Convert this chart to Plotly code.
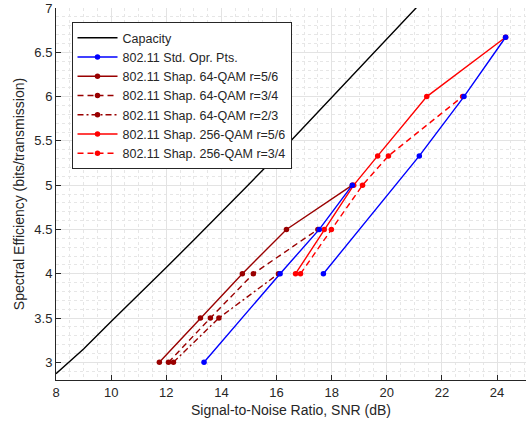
import plotly.graph_objects as go

# Capacity curve
cap_snr = [8, 9, 10, 11, 12, 13, 14, 15, 16, 17, 18, 19, 20, 21, 22]
cap_se = [2.87, 3.15, 3.46, 3.76, 4.07, 4.38, 4.69, 5.01, 5.33, 5.66, 5.98, 6.31, 6.65, 6.98, 7.31]

# 802.11 standard operating points (two segments)
std_snr = [13.37, 16.13, 17.55, 18.75, None, 17.70, 21.18, 22.80, 24.31]
std_se = [3, 4, 4.5, 5, None, 4, 5.33, 6, 6.67]

# Shaped 64-QAM
q64_56_snr = [11.75, 13.24, 14.76, 16.36, 18.75]
q64_56_se = [3, 3.5, 4, 4.5, 5]
q64_34_snr = [12.08, 13.60, 15.16, 17.50]
q64_34_se = [3, 3.5, 4, 4.5]
q64_23_snr = [12.26, 13.91, 16.07]
q64_23_se = [3, 3.5, 4]

# Shaped 256-QAM
q256_56_snr = [16.69, 17.73, 18.80, 19.67, 21.45, 24.31]
q256_56_se = [4, 4.5, 5, 5.33, 6, 6.67]
q256_34_snr = [16.87, 17.99, 19.12, 20.06, 22.75]
q256_34_se = [4, 4.5, 5, 5.33, 6]

x_ticks = [8, 10, 12, 14, 16, 18, 20, 22, 24, 26]
y_ticks = [3, 3.5, 4, 4.5, 5, 5.5, 6, 6.5, 7]

DR = "#990000"
LW = 1.4
MS = 5.5
FONT = "Liberation Sans, Arial, sans-serif"

fig = go.Figure()
fig.add_trace(go.Scatter(x=cap_snr, y=cap_se, mode="lines", name="Capacity",
                         line=dict(color="black", width=LW), legendrank=1))
fig.add_trace(go.Scatter(x=q64_56_snr, y=q64_56_se, mode="lines+markers",
                         name="802.11 Shap. 64-QAM r=5/6",
                         line=dict(color=DR, width=LW), marker=dict(size=MS, color=DR),
                         legendrank=3))
fig.add_trace(go.Scatter(x=q64_34_snr, y=q64_34_se, mode="lines+markers",
                         name="802.11 Shap. 64-QAM r=3/4",
                         line=dict(color=DR, width=LW, dash="6px,4px"), marker=dict(size=MS, color=DR),
                         legendrank=4))
fig.add_trace(go.Scatter(x=q64_23_snr, y=q64_23_se, mode="lines+markers",
                         name="802.11 Shap. 64-QAM r=2/3",
                         line=dict(color=DR, width=LW, dash="6px,3px,2px,3px"), marker=dict(size=MS, color=DR),
                         legendrank=5))
fig.add_trace(go.Scatter(x=q256_56_snr, y=q256_56_se, mode="lines+markers",
                         name="802.11 Shap. 256-QAM r=5/6",
                         line=dict(color="#FF0000", width=LW), marker=dict(size=MS, color="#FF0000"),
                         legendrank=6))
fig.add_trace(go.Scatter(x=q256_34_snr, y=q256_34_se, mode="lines+markers",
                         name="802.11 Shap. 256-QAM r=3/4",
                         line=dict(color="#FF0000", width=LW, dash="6px,4px"), marker=dict(size=MS, color="#FF0000"),
                         legendrank=7))
fig.add_trace(go.Scatter(x=std_snr, y=std_se, mode="lines+markers",
                         name="802.11 Std. Opr. Pts.", connectgaps=False,
                         line=dict(color="#0000FF", width=LW), marker=dict(size=MS, color="#0000FF"),
                         legendrank=2))

axis_common = dict(
    showline=True, linecolor="#262626", linewidth=1,
    ticks="inside", ticklen=5, tickcolor="#262626", tickwidth=1,
    showgrid=True, gridcolor="#e3e3e3", gridwidth=1,
    zeroline=False, mirror=False, automargin=False,
    tickfont=dict(family=FONT, size=13, color="#262626"),
)

fig.update_xaxes(**axis_common, range=[8, 25.05], tickvals=x_ticks,
                 minor=dict(dtick=0.5, showgrid=True, gridcolor="#e6e6e6", griddash="dot", gridwidth=1),
                 title=dict(text="Signal-to-Noise Ratio, SNR (dB)", standoff=6,
                            font=dict(family=FONT, size=14, color="#262626")))
fig.update_yaxes(**axis_common, range=[2.8, 7], tickvals=y_ticks,
                 minor=dict(dtick=0.1, tick0=0, showgrid=True, gridcolor="#e6e6e6", griddash="dot", gridwidth=1),
                 title=dict(text="Spectral Efficiency (bits/transmission)", standoff=6,
                            font=dict(family=FONT, size=14, color="#262626")))

fig.update_layout(
    width=526, height=429,
    margin=dict(l=55.5, r=0, t=8, b=49),
    plot_bgcolor="white", paper_bgcolor="white",
    font=dict(family=FONT, color="#262626"),
    legend=dict(x=0.033, y=0.962, xanchor="left", yanchor="top",
                bgcolor="white", bordercolor="#262626", borderwidth=1,
                font=dict(family=FONT, size=12.5, color="#262626"),
                itemwidth=40, tracegroupgap=0),
    showlegend=True,
)

fig.write_html("out.html", config={"displayModeBar": False, "staticPlot": True},
               post_script="document.body.style.margin='0';document.body.style.overflow='hidden';")
